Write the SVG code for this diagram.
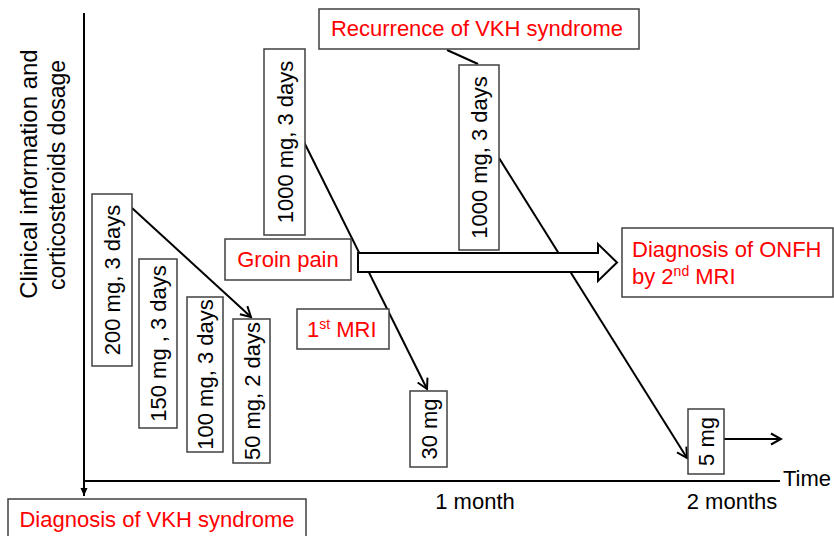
<svg xmlns="http://www.w3.org/2000/svg" width="834" height="536" viewBox="0 0 834 536">
<style>
.box{fill:#fff;stroke:#404040;stroke-width:1.5}
.t{font-family:"Liberation Sans",Arial,sans-serif;font-size:22px;fill:#000}
.r{fill:#ff0000}
.ln{stroke:#000;stroke-width:2;fill:none}
</style>
<defs>
<marker id="open" markerUnits="userSpaceOnUse" markerWidth="14" markerHeight="14" viewBox="0 0 14 14" refX="12" refY="7" orient="auto">
<path d="M2,1.5 L12,7 L2,12.5" fill="none" stroke="#000" stroke-width="2"/>
</marker>
<marker id="solid" markerUnits="userSpaceOnUse" markerWidth="10" markerHeight="10" viewBox="0 0 10 10" refX="9" refY="5" orient="auto">
<path d="M1,1.5 L9,5 L1,8.5 Z" fill="#000"/>
</marker>
</defs>
<rect width="834" height="536" fill="#fff"/>

<g id="axis-label">
<text class="t" style="font-size:24px" transform="translate(37,174) rotate(-90)" text-anchor="middle">Clinical information and</text>
<text class="t" style="font-size:23px" transform="translate(65,175) rotate(-90)" text-anchor="middle">corticosteroids dosage</text>
</g>

<g id="connectors">
<line class="ln" x1="84" y1="13" x2="84" y2="496" marker-end="url(#solid)"/>
<line class="ln" x1="84" y1="481" x2="780" y2="481"/>
<line class="ln" x1="132" y1="208" x2="251" y2="317" marker-end="url(#open)"/>
<line class="ln" x1="304" y1="142" x2="427" y2="389" marker-end="url(#open)"/>
<line class="ln" x1="447" y1="50" x2="478" y2="64"/>
<line class="ln" x1="499" y1="158" x2="687" y2="458" marker-end="url(#open)"/>
<line class="ln" x1="724" y1="439" x2="781" y2="439" marker-end="url(#open)"/>
</g>

<g id="block-arrow">
<path d="M358,253 L598,253 L598,244 L617,262.5 L598,281 L598,272 L358,272 Z" fill="#fff" stroke="#000" stroke-width="2" stroke-linejoin="miter"/>
</g>

<g id="n-200">
<rect class="box" x="92" y="194" width="40" height="172"/>
<text class="t" transform="translate(112,280) rotate(-90)" text-anchor="middle" y="8">200 mg, 3 days</text>
</g>
<g id="n-150">
<rect class="box" x="139" y="259" width="38" height="169"/>
<text class="t" transform="translate(158,343.5) rotate(-90)" text-anchor="middle" y="8">150 mg , 3 days</text>
</g>
<g id="n-100">
<rect class="box" x="187" y="297" width="36" height="155"/>
<text class="t" transform="translate(205,374.5) rotate(-90)" text-anchor="middle" y="8">100 mg, 3 days</text>
</g>
<g id="n-50">
<rect class="box" x="233" y="319" width="37" height="144"/>
<text class="t" transform="translate(251.5,391) rotate(-90)" text-anchor="middle" y="8">50 mg, 2 days</text>
</g>
<g id="n-1000a">
<rect class="box" x="264" y="49" width="41" height="186"/>
<text class="t" transform="translate(284.5,142) rotate(-90)" text-anchor="middle" y="8">1000 mg, 3 days</text>
</g>
<g id="n-1000b">
<rect class="box" x="459" y="65" width="40" height="185"/>
<text class="t" transform="translate(479,157.5) rotate(-90)" text-anchor="middle" y="8">1000 mg, 3 days</text>
</g>
<g id="n-30">
<rect class="box" x="410" y="391" width="37" height="76"/>
<text class="t" transform="translate(428.5,429) rotate(-90)" text-anchor="middle" y="8">30 mg</text>
</g>
<g id="n-5">
<rect class="box" x="688" y="409" width="36" height="65"/>
<text class="t" transform="translate(706,441.5) rotate(-90)" text-anchor="middle" y="8">5 mg</text>
</g>

<g id="n-groin">
<rect class="box" x="225" y="239" width="126" height="41"/>
<text class="t r" x="288" y="267" text-anchor="middle">Groin pain</text>
</g>
<g id="n-mri1">
<rect class="box" x="297" y="309" width="92" height="40"/>
<text class="t r" x="307" y="337">1<tspan font-size="14" dy="-8">st</tspan><tspan dy="8"> MRI</tspan></text>
</g>
<g id="n-recurrence">
<rect class="box" x="319" y="9" width="320" height="40"/>
<text class="t r" x="477" y="36" text-anchor="middle">Recurrence of VKH syndrome</text>
</g>
<g id="n-onfh">
<rect class="box" x="622" y="228" width="211" height="69"/>
<text class="t r" x="632" y="257">Diagnosis of ONFH</text>
<text class="t r" x="632" y="284">by 2<tspan font-size="14" dy="-8">nd</tspan><tspan dy="8"> MRI</tspan></text>
</g>
<g id="n-vkh">
<rect class="box" x="8" y="499" width="298" height="45"/>
<text class="t r" x="157" y="527" text-anchor="middle">Diagnosis of VKH syndrome</text>
</g>

<g id="axis-text">
<text class="t" x="783" y="486">Time</text>
<text class="t" x="475" y="509" text-anchor="middle">1 month</text>
<text class="t" x="732" y="509" text-anchor="middle">2 months</text>
</g>
</svg>
